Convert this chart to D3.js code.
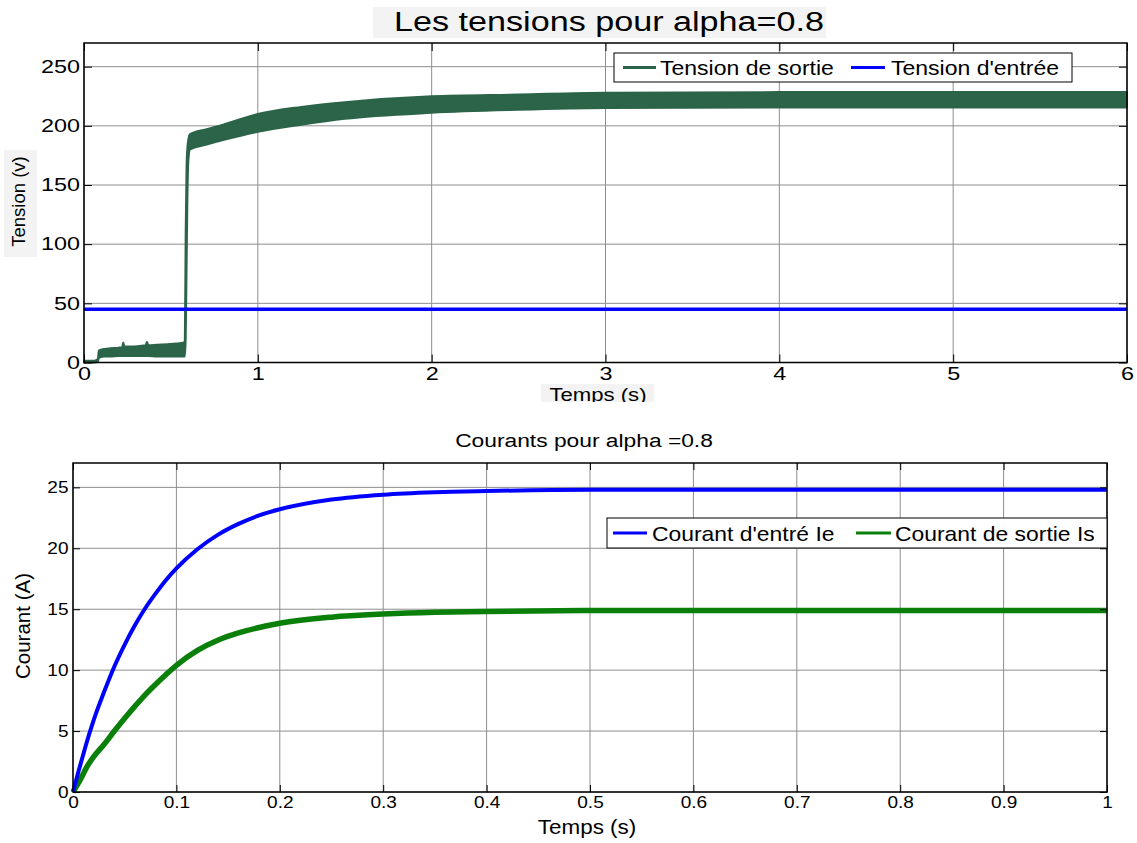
<!DOCTYPE html>
<html>
<head>
<meta charset="utf-8">
<script src="https://cdnjs.cloudflare.com/ajax/libs/d3/7.8.5/d3.min.js"></script>
<style>
  html, body { margin: 0; padding: 0; background: #fff; }
  svg { display: block; font-family: "Liberation Sans", Arial, Helvetica, sans-serif; }
</style>
</head>
<body>
<svg id="fig" width="1137" height="843"></svg>
<script>
// ---- Tension plot data (time in s, voltage in V) ----
const tSortie = [0, 0.06, 0.08, 0.085, 0.12, 0.15, 0.2, 0.22, 0.226, 0.232, 0.28, 0.32, 0.355, 0.362, 0.37, 0.42, 0.48, 0.53, 0.575, 0.58, 0.585, 0.59, 0.595, 0.6, 0.61, 0.7, 0.8, 1, 1.25, 1.5, 2, 2.5, 3, 4, 5, 6];
// lower / upper envelope of the rippled output voltage
const vSortieMin = [0, 0, 0.5, 4, 5, 5, 5.5, 5.5, 5.5, 5.5, 5.5, 5.5, 5.5, 5.5, 5.5, 5, 5, 5, 5, 5, 20, 80, 140, 170, 180, 184, 188, 195, 201, 206, 211, 213.5, 215, 215.5, 215.5, 215.5];
const vSortieMax = [1.5, 1.5, 3, 10, 11.5, 12, 12.5, 13, 17, 13.5, 13.5, 14, 14.5, 17.5, 14.5, 15, 15.5, 16, 17, 18, 110, 165, 182, 188, 193, 197, 201, 210, 216, 220, 225, 226.5, 228, 228.5, 228.5, 228.5];
const tEntree = [0, 6];
const vEntree = [45, 45];
const tensionTicksX = [0, 1, 2, 3, 4, 5, 6];
const tensionTicksY = [0, 50, 100, 150, 200, 250];

// ---- Current plot data (time in s, current in A) ----
const tCourant = [0, 0.005, 0.01, 0.013, 0.02, 0.03, 0.04, 0.05, 0.06, 0.07, 0.08, 0.09, 0.1, 0.12, 0.14, 0.16, 0.18, 0.2, 0.25, 0.3, 0.35, 0.4, 0.5, 0.6, 0.7, 0.8, 0.9, 1];
const iEntree = [0, 1.6, 3.1, 4.0, 5.9, 8.2, 10.3, 12.1, 13.7, 15.1, 16.3, 17.4, 18.35, 19.9, 21.1, 22.0, 22.7, 23.2, 24.0, 24.4, 24.6, 24.7, 24.8, 24.8, 24.8, 24.8, 24.8, 24.8];
const iSortie = [0, 0.7, 1.5, 2.0, 2.9, 3.9, 5.0, 6.05, 7.05, 8.0, 8.85, 9.65, 10.4, 11.6, 12.45, 13.05, 13.5, 13.85, 14.35, 14.6, 14.75, 14.82, 14.9, 14.9, 14.9, 14.9, 14.9, 14.9];
const courantTicksX = [0, 0.1, 0.2, 0.3, 0.4, 0.5, 0.6, 0.7, 0.8, 0.9, 1];
const courantTicksY = [0, 5, 10, 15, 20, 25];

const svg = d3.select("#fig");
const GREEN_DARK = "#2b6448";
const BLUE = "#0000ff";
const GREEN = "#0a800a";
const GRID = "#8e8e8e";

// text helper: horizontally stretched glyphs, optional rotation
function label(g, x, y, txt, size, sx, anchor, rot) {
  return g.append("text")
    .attr("transform", `translate(${x},${y}) rotate(${rot || 0}) scale(${sx},1)`)
    .attr("text-anchor", anchor || "middle")
    .attr("font-size", size)
    .attr("fill", "#000")
    .text(txt);
}

function panel(cfg) {
  const { left, top, right, bottom, xDomain, yDomain, xTicks, yTicks, tick, fmtX, tickFont, tickSx } = cfg;
  const x = d3.scaleLinear().domain(xDomain).range([left, right]);
  const y = d3.scaleLinear().domain(yDomain).range([bottom, top]);
  const g = svg.append("g");

  // grid
  const grid = g.append("g");
  grid.selectAll(".gx").data(xTicks).join("line")
    .attr("x1", d => x(d)).attr("x2", d => x(d))
    .attr("y1", top).attr("y2", bottom)
    .attr("stroke", GRID).attr("stroke-width", 1);
  grid.selectAll(".gy").data(yTicks).join("line")
    .attr("y1", d => y(d)).attr("y2", d => y(d))
    .attr("x1", left).attr("x2", right)
    .attr("stroke", GRID).attr("stroke-width", 1);

  const data = g.append("g");
  const over = g.append("g");

  // inward ticks on all four sides
  const axB = d3.axisBottom(x).tickValues(xTicks).tickSizeInner(-tick).tickSizeOuter(0).tickPadding(cfg.padX).tickFormat(fmtX);
  const axL = d3.axisLeft(y).tickValues(yTicks).tickSizeInner(-tick).tickSizeOuter(0).tickPadding(cfg.padY);
  const axT = d3.axisTop(x).tickValues(xTicks).tickSizeInner(-tick).tickSizeOuter(0).tickFormat("");
  const axR = d3.axisRight(y).tickValues(yTicks).tickSizeInner(-tick).tickSizeOuter(0).tickFormat("");
  const gb = over.append("g").attr("transform", `translate(0,${bottom})`).call(axB);
  const gl = over.append("g").attr("transform", `translate(${left},0)`).call(axL);
  over.append("g").attr("transform", `translate(0,${top})`).call(axT);
  over.append("g").attr("transform", `translate(${right},0)`).call(axR);
  over.selectAll(".domain").remove();
  over.selectAll(".tick line").attr("stroke", "#000").attr("stroke-width", 1);
  [gb, gl].forEach(a => a.selectAll("text")
    .attr("font-size", tickFont).attr("fill", "#000")
    .attr("font-family", "Liberation Sans, Arial, sans-serif"));
  gb.selectAll("text").attr("transform", `scale(${tickSx},1)`);
  gl.selectAll("text").each(function () {
    const t = d3.select(this);
    t.attr("x", +t.attr("x") / tickSx).attr("transform", `scale(${tickSx},1)`);
  });

  // frame
  over.append("rect")
    .attr("x", left).attr("y", top)
    .attr("width", right - left).attr("height", bottom - top)
    .attr("fill", "none").attr("stroke", "#000").attr("stroke-width", 1.5);

  return { x, y, g, data, over };
}

// ================= Tension panel =================
const P1 = panel({
  left: 84, top: 43, right: 1127, bottom: 362.5,
  xDomain: [0, 6], yDomain: [0, 270],
  xTicks: tensionTicksX, yTicks: tensionTicksY,
  tick: 8, padX: 5, padY: 4, fmtX: d3.format("d"),
  tickFont: 18, tickSx: 1.3
});

const sortieRows = tSortie.map((t, i) => ({ t, lo: vSortieMin[i], hi: vSortieMax[i] }));
P1.data.append("path")
  .datum(sortieRows)
  .attr("d", d3.area().x(d => P1.x(d.t)).y0(d => P1.y(d.lo)).y1(d => P1.y(d.hi)).curve(d3.curveMonotoneX))
  .attr("fill", GREEN_DARK).attr("stroke", GREEN_DARK).attr("stroke-width", 2).attr("stroke-linejoin", "round");

const entreeRows = tEntree.map((t, i) => ({ t, v: vEntree[i] }));
P1.data.append("path")
  .datum(entreeRows)
  .attr("d", d3.line().x(d => P1.x(d.t)).y(d => P1.y(d.v)))
  .attr("fill", "none").attr("stroke", BLUE).attr("stroke-width", 3.5);

// title
svg.append("rect").attr("x", 373).attr("y", 7).attr("width", 453).attr("height", 31).attr("fill", "#f3f3f3");
label(svg, 609, 31, "Les tensions pour alpha=0.8", 28, 1.22, "middle");

// y label
svg.append("rect").attr("x", 4).attr("y", 150).attr("width", 33).attr("height", 107).attr("fill", "#f3f3f3");
label(svg, 25, 201.5, "Tension (v)", 18.5, 1, "middle", -90);

// x label, partly hidden under the lower panel area
svg.append("clipPath").attr("id", "clipTemps")
  .append("rect").attr("x", 0).attr("y", 370).attr("width", 1137).attr("height", 32);
const tl = svg.append("g").attr("clip-path", "url(#clipTemps)");
tl.append("rect").attr("x", 541).attr("y", 384).attr("width", 113).attr("height", 20).attr("fill", "#f3f3f3");
label(tl, 598, 401, "Temps (s)", 18, 1.23, "middle");

// legend
const L1 = P1.over.append("g");
L1.append("rect").attr("x", 614).attr("y", 53).attr("width", 458).attr("height", 29)
  .attr("fill", "#fff").attr("stroke", "#000").attr("stroke-width", 1);
L1.append("line").attr("x1", 623).attr("x2", 656).attr("y1", 67.5).attr("y2", 67.5).attr("stroke", GREEN_DARK).attr("stroke-width", 3);
label(L1, 660, 74.5, "Tension de sortie", 19.5, 1.18, "start");
L1.append("line").attr("x1", 851).attr("x2", 885).attr("y1", 67.5).attr("y2", 67.5).attr("stroke", BLUE).attr("stroke-width", 3);
label(L1, 891, 74.5, "Tension d'entrée", 19.5, 1.18, "start");

// ================= Courant panel =================
const P2 = panel({
  left: 73, top: 463, right: 1107, bottom: 792,
  xDomain: [0, 1], yDomain: [0, 27],
  xTicks: courantTicksX, yTicks: courantTicksY,
  tick: 7, padX: 4, padY: 4.5, fmtX: d => (d === 0 || d === 1) ? d3.format("d")(d) : d3.format(".1f")(d),
  tickFont: 17, tickSx: 1.12
});

const lineC = d3.line().x(d => P2.x(d.t)).y(d => P2.y(d.v)).curve(d3.curveMonotoneX);
P2.data.append("path")
  .datum(tCourant.map((t, i) => ({ t, v: iSortie[i] })))
  .attr("d", lineC).attr("fill", "none").attr("stroke", GREEN).attr("stroke-width", 5.5);
P2.data.append("path")
  .datum(tCourant.map((t, i) => ({ t, v: iEntree[i] })))
  .attr("d", lineC).attr("fill", "none").attr("stroke", BLUE).attr("stroke-width", 4);

label(svg, 584, 447, "Courants pour alpha =0.8", 19, 1.2, "middle");
label(svg, 30, 626, "Courant (A)", 20.5, 1, "middle", -90);
label(svg, 587, 834, "Temps (s)", 19.5, 1.15, "middle");

const L2 = P2.over.append("g");
L2.append("rect").attr("x", 607).attr("y", 518).attr("width", 500).attr("height", 30)
  .attr("fill", "#fff").attr("stroke", "#000").attr("stroke-width", 1);
L2.append("line").attr("x1", 613).attr("x2", 647).attr("y1", 533).attr("y2", 533).attr("stroke", BLUE).attr("stroke-width", 3);
label(L2, 652, 540.5, "Courant d'entré Ie", 20, 1.145, "start");
L2.append("line").attr("x1", 856).attr("x2", 891).attr("y1", 533).attr("y2", 533).attr("stroke", GREEN).attr("stroke-width", 3);
label(L2, 895, 540.5, "Courant de sortie Is", 20, 1.145, "start");
</script>
</body>
</html>
